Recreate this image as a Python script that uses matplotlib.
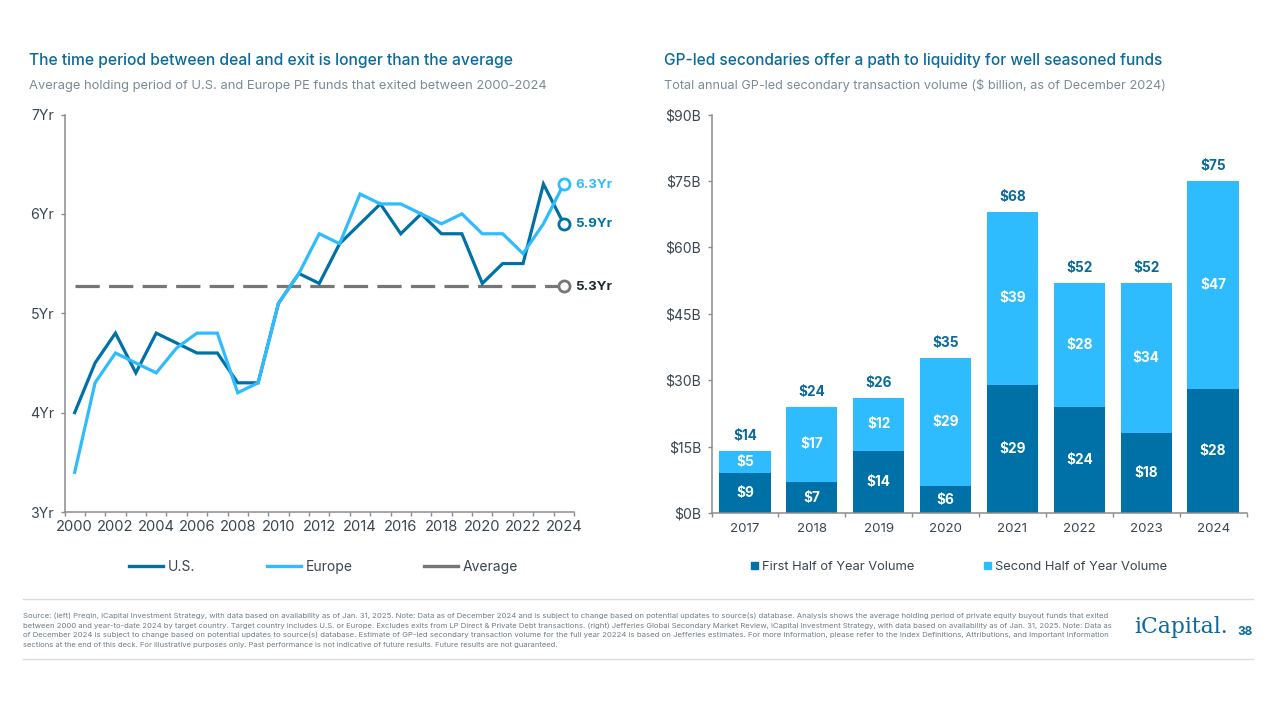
import numpy as np
import matplotlib
matplotlib.use('Agg')
import matplotlib.pyplot as plt
from matplotlib.lines import Line2D
from matplotlib.patches import Patch

years = list(range(2000, 2025))
us = [4.0, 4.5, 4.8, 4.4, 4.8, 4.7, 4.6, 4.6, 4.3, 4.3, 5.1, 5.4, 5.3, 5.7, 5.9, 6.1, 5.8, 6.0, 5.8, 5.8, 5.3, 5.5, 5.5, 6.3, 5.9]
europe = [3.4, 4.3, 4.6, 4.5, 4.4, 4.65, 4.8, 4.8, 4.2, 4.3, 5.1, 5.4, 5.8, 5.7, 6.2, 6.1, 6.1, 6.0, 5.9, 6.0, 5.8, 5.8, 5.6, 5.9, 6.3]
average = 5.27

bar_years = [2017, 2018, 2019, 2020, 2021, 2022, 2023, 2024]
first_half = [9, 7, 14, 6, 29, 24, 18, 28]
second_half = [5, 17, 12, 29, 39, 28, 34, 47]
totals = [14, 24, 26, 35, 68, 52, 52, 75]

footnote = [
    "Source: (left) Preqin, iCapital Investment Strategy, with data based on availability as of Jan. 31, 2025. Note: Data as of December 2024 and is subject to change based on potential updates to source(s) database. Analysis shows the average holding period of private equity buyout funds that exited",
    "between 2000 and year-to-date 2024 by target country. Target country includes U.S. or Europe. Excludes exits from LP Direct & Private Debt transactions. (right) Jefferies Global Secondary Market Review, iCapital Investment Strategy, with data based on availability as of Jan. 31, 2025. Note: Data as",
    "of December 2024 is subject to change based on potential updates to source(s) database. Estimate of GP-led secondary transaction volume for the full year 20224 is based on Jefferies estimates. For more information, please refer to the Index Definitions, Attributions, and Important Information",
    "sections at the end of this deck. For illustrative purposes only. Past performance is not indicative of future results. Future results are not guaranteed.",
]

DARK = '#0071a6'
LIGHT = '#2fbcff'
GREY = '#767676'
TITLE = '#0a6a9c'
SUB = '#7b8b96'
TXT = '#3b4650'
AXIS = '#8c8c8c'

plt.rcParams['font.family'] = ['Inter', 'DejaVu Sans']

W, H = 1280, 720
fig = plt.figure(figsize=(12.8, 7.2), dpi=100, facecolor='white')


def px_axes(left, top, right, bottom):
    return fig.add_axes([left / W, 1 - bottom / H, (right - left) / W, (bottom - top) / H])


def fit_text(s, x, y, width, size, **kw):
    # shrink or stretch the font so the line spans the same pixels as the reference
    t = fig.text(x / W, 1 - y / H, s, va='center', fontsize=size, **kw)
    w = t.get_window_extent(fig.canvas.get_renderer()).width
    t.set_fontsize(size * width / w)
    return t


def style_axes(ax, xsize, ysize, xpad):
    ax.spines['top'].set_visible(False)
    ax.spines['right'].set_visible(False)
    for side in ['left', 'bottom']:
        ax.spines[side].set_color(AXIS)
        ax.spines[side].set_linewidth(1.1)
    ax.tick_params(axis='y', length=3, width=1, color=AXIS, labelcolor=TXT, labelsize=ysize, pad=4.5)
    ax.tick_params(axis='x', which='minor', length=3, width=1, color=AXIS)
    ax.tick_params(axis='x', which='major', length=0, labelcolor=TXT, labelsize=xsize, pad=xpad)


# left chart
ax1 = px_axes(64.5, 114.5, 574, 512)
style_axes(ax1, 10.6, 10.2, 5.5)
x = np.arange(len(years))
ax1.plot(x, us, color=DARK, lw=2.3, solid_joinstyle='miter', zorder=3)
ax1.plot(x, europe, color=LIGHT, lw=2.3, solid_joinstyle='miter', zorder=4)
ax1.plot(x, [average] * len(x), color=GREY, lw=2.3, dashes=(7.6, 2.9), dash_capstyle='butt', zorder=2)
for val, col in [(us[-1], DARK), (europe[-1], LIGHT), (average, GREY)]:
    ax1.plot(x[-1], val, 'o', ms=8, mfc='white', mec=col, mew=2, zorder=5)
ax1.set_xlim(-0.5, len(years) - 0.5)
ax1.set_ylim(3, 7)
ax1.set_yticks([3, 4, 5, 6, 7])
ax1.set_yticklabels([f'{v}Yr' for v in [3, 4, 5, 6, 7]])
ax1.set_xticks(x[::2])
ax1.set_xticklabels(years[::2])
ax1.set_xticks(np.arange(len(years) + 1) - 0.5, minor=True)
for val, col, lab in [(europe[-1], LIGHT, europe[-1]), (us[-1], DARK, us[-1]), (average, '#1f2a35', 5.3)]:
    ax1.annotate(f'{lab}Yr', (x[-1], val), xytext=(8.5, -0.4), textcoords='offset points', va='center',
                 ha='left', color=col, fontsize=9.6, fontweight='bold', annotation_clip=False)

handles = [Line2D([], [], color=DARK, lw=2.4), Line2D([], [], color=LIGHT, lw=2.4), Line2D([], [], color=GREY, lw=2.4)]
ax1.legend(handles, ['U.S.', 'Europe', 'Average'], ncol=3, frameon=False, loc='center',
           bbox_to_anchor=(323.5 / W, 1 - 567 / H), bbox_transform=fig.transFigure,
           fontsize=10, handlelength=2.45, handletextpad=0.35, columnspacing=5.15, labelcolor=TXT)

# right chart
ax2 = px_axes(711.5, 114.5, 1246.5, 513)
style_axes(ax2, 9.6, 10.1, 7)
xb = np.arange(len(bar_years))
ax2.bar(xb, first_half, width=0.765, color=DARK)
ax2.bar(xb, second_half, width=0.765, bottom=first_half, color=LIGHT)
for i in xb:
    ax2.text(i, first_half[i] / 2, f'${first_half[i]}', color='white', ha='center', va='center',
             fontsize=9.8, fontweight='bold')
    ax2.text(i, first_half[i] + second_half[i] / 2, f'${second_half[i]}', color='white', ha='center',
             va='center', fontsize=9.8, fontweight='bold')
    ax2.annotate(f'${totals[i]}', (i, totals[i]), xytext=(0, 10.8), textcoords='offset points', ha='center',
                 va='center', color=TITLE, fontsize=9.8, fontweight='bold')
ax2.set_xlim(-0.5, len(bar_years) - 0.5)
ax2.set_ylim(0, 90)
ax2.set_yticks(range(0, 91, 15))
ax2.set_yticklabels([f'${v}B' for v in range(0, 91, 15)])
ax2.set_xticks(xb)
ax2.set_xticklabels(bar_years)
ax2.set_xticks(np.arange(len(bar_years) + 1) - 0.5, minor=True)

handles = [Patch(color=DARK), Patch(color=LIGHT)]
ax2.legend(handles, ['First Half of Year Volume', 'Second Half of Year Volume'], ncol=2, frameon=False,
           loc='center', bbox_to_anchor=(959 / W, 1 - 567 / H), bbox_transform=fig.transFigure,
           fontsize=9.3, handlelength=0.55, handleheight=0.55, handletextpad=0.3, columnspacing=5.4, labelcolor=TXT)

# headings
fit_text('The time period between deal and exit is longer than the average', 29, 60, 482, 11.5, color=TITLE, fontweight='medium')
fit_text('Average holding period of U.S. and Europe PE funds that exited between 2000-2024', 29, 85.5, 519, 9.5, color=SUB)
fit_text('GP-led secondaries offer a path to liquidity for well seasoned funds', 664, 60, 497, 11.5, color=TITLE, fontweight='medium')
fit_text('Total annual GP-led secondary transaction volume ($ billion, as of December 2024)', 664, 85.5, 502, 9.5, color=SUB)

# footer
for yy in [599, 659]:
    fig.add_artist(Line2D([23 / W, 1253 / W], [1 - yy / H] * 2, color='#d6dee3', lw=1))
line_y = [616, 625.5, 635, 644.5]
line_w = [1085, 1085, 1085, 534]
for s, yy, w in zip(footnote, line_y, line_w):
    fit_text(s, 23, yy, w, 5.2, color='#6f7c86')
fit_text('iCapital.', 1134, 627, 94, 15, color='#0b6a9e', family=['DejaVu Serif'])
fig.text(1237 / W, 1 - 632 / H, '38', fontsize=8.5, fontweight='bold', color=TITLE, va='center')

fig.savefig('out.png', dpi=100)
